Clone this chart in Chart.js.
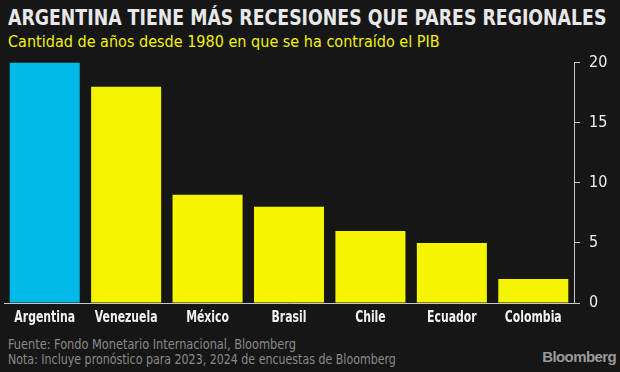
<!DOCTYPE html>
<html>
<head>
<meta charset="utf-8">
<script src="https://cdn.jsdelivr.net/npm/chart.js@4"></script>
<style>
  html, body { margin: 0; padding: 0; background: #161616; }
  body { width: 620px; height: 372px; position: relative; overflow: hidden;
         font-family: "DejaVu Sans Condensed", sans-serif; }
  .fit { transform-origin: 0 0; white-space: nowrap; position: absolute; line-height: 1; }
  #title { left: 8px; top: 7px; color: #e8e8e8; font-size: 21.5px; font-weight: bold; }
  #subtitle { left: 8px; top: 33.5px; color: #f2f20a; font-size: 16px; }
  #wrap { position: absolute; left: 0; top: 44px; width: 620px; height: 291px; }
  #foot1 { left: 8px; top: 336.5px; color: #8a8a8a; font-size: 14.5px; }
  #foot2 { left: 8px; top: 352px; color: #8a8a8a; font-size: 14.5px; }
  #logo { position: absolute; right: 4px; top: 348px; color: #9a9a9a; font-family: "Liberation Sans", Arial, sans-serif;
          font-weight: bold; font-size: 15px; letter-spacing: -0.6px; }
</style>
</head>
<body>
<div id="title" class="fit">ARGENTINA TIENE MÁS RECESIONES QUE PARES REGIONALES</div>
<div id="subtitle" class="fit">Cantidad de años desde 1980 en que se ha contraído el PIB</div>
<div id="wrap"><canvas id="chart" width="620" height="291"></canvas></div>
<div id="foot1" class="fit">Fuente: Fondo Monetario Internacional, Bloomberg</div>
<div id="foot2" class="fit">Nota: Incluye pronóstico para 2023, 2024 de encuestas de Bloomberg</div>
<div id="logo">Bloomberg</div>
<script>
// Data
const countries = ['Argentina', 'Venezuela', 'México', 'Brasil', 'Chile', 'Ecuador', 'Colombia'];
const recessionYears = [20, 18, 9, 8, 6, 5, 2];
const barColors = ['#00b9e6', '#f5f500', '#f5f500', '#f5f500', '#f5f500', '#f5f500', '#f5f500'];
const yTicks = [0, 5, 10, 15, 20];

const axisColor = '#c8c8c8';
const labelFont = '"DejaVu Sans Condensed", sans-serif';

// squeeze the header/footer text to the widths seen in the original
function fitWidth(id, w) {
    const el = document.getElementById(id);
    el.style.transform = `scaleX(${w / el.offsetWidth})`;
}
fitWidth('title', 598);
fitWidth('subtitle', 432);
fitWidth('foot1', 288);
fitWidth('foot2', 388);

// category labels drawn a bit condensed, at the x scale's own tick positions
const condensedLabels = {
    id: 'condensedLabels',
    afterDraw(chart) {
        const xs = chart.scales.x;
        const c = chart.ctx;
        c.save();
        c.fillStyle = '#f0f0f0';
        c.font = `bold 15.5px ${labelFont}`;
        c.textAlign = 'center';
        c.textBaseline = 'middle';
        countries.forEach((name, i) => {
            const x = xs.getPixelForTick(i);
            c.save();
            c.translate(x, xs.top + 15);
            c.scale(0.78, 1);
            c.fillText(name, 0, 0);
            c.restore();
        });
        c.restore();
    }
};

const ctx = document.getElementById('chart').getContext('2d');
const chart = new Chart(ctx, {
    type: 'bar',
    data: {
        labels: countries,
        datasets: [{
            data: recessionYears,
            backgroundColor: barColors,
            borderWidth: 0,
            categoryPercentage: 1,
            barPercentage: 0.86
        }]
    },
    options: {
        responsive: false,
        animation: false,
        layout: { padding: { left: 4, top: 0, right: 0, bottom: 0 } },
        scales: {
            x: {
                grid: { drawOnChartArea: false, drawTicks: false },
                border: { display: true, color: axisColor, width: 1 },
                ticks: { display: false },
                afterFit: s => { s.height = 32; }
            },
            y: {
                position: 'right',
                min: 0,
                max: 20,
                afterBuildTicks: s => { s.ticks = yTicks.map(v => ({ value: v })); },
                grid: { drawOnChartArea: false, drawTicks: true, tickLength: 6, color: axisColor },
                border: { display: true, color: axisColor, width: 1 },
                ticks: {
                    color: '#f0f0f0',
                    padding: 9,
                    font: { family: labelFont, size: 16 }
                },
                afterFit: s => { s.width = 46; }
            }
        },
        plugins: {
            legend: { display: false },
            tooltip: { enabled: false }
        }
    },
    plugins: [condensedLabels]
});
</script>
</body>
</html>
